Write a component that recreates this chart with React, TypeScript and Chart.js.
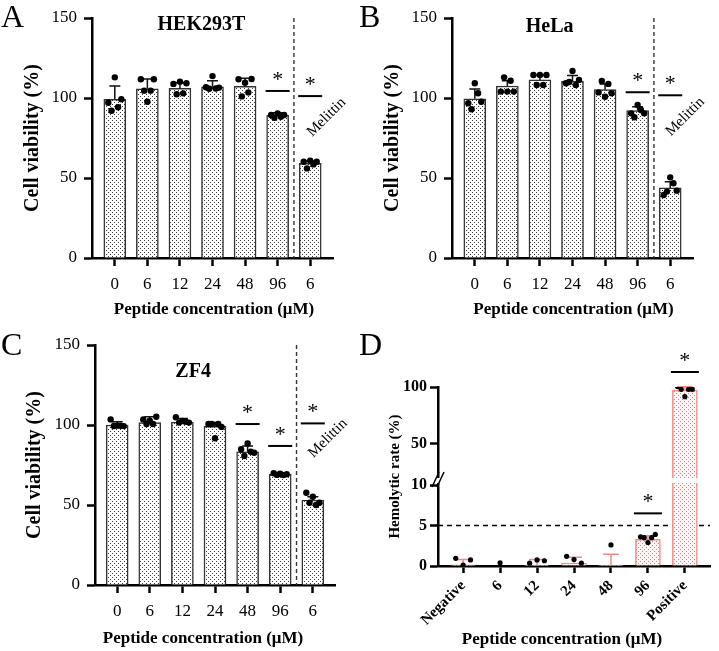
import { useEffect, useRef } from 'react';
import { Chart, registerables, LinearScale } from 'chart.js';

Chart.register(...registerables);

const SERIF = "'Liberation Serif', 'Times New Roman', Times, serif";
Chart.defaults.font.family = SERIF;
Chart.defaults.color = '#000';

// ---- Cell viability (three cell lines) ----
const concLabels = ['0', '6', '12', '24', '48', '96', '6'];
const viabilityTicks = [0, 50, 100, 150];

const hekMean = [99.2, 105.8, 106, 107, 107.3, 89.3, 59.2];
const hekSd = [8.3, 6.1, 3.6, 3.8, 5.0, 1.5, 1.4];
const hekPoints = [
  [112.9, 97, 99.2, 92, 94.2],
  [97.7, 111.7, 111.7, 104.6, 104.6],
  [110.2, 108.8, 109.2, 102.3, 102.9],
  [113.7, 106.7, 106.5, 105.8, 105.9],
  [109.5, 111.7, 111.9, 101, 103.5],
  [90.4, 89.4, 89.4, 87.7, 88.3],
  [60.8, 60.2, 60.2, 56, 58.5],
];
const hekSig = [null, null, null, null, null, 104.4, 101.2];

const helaMean = [99.5, 107.5, 111.3, 110.5, 105.2, 92.2, 43.8];
const helaSd = [6.1, 3.3, 3.1, 3.5, 3.6, 2.4, 3.9];
const helaPoints = [
  [109.2, 96.7, 97.7, 93, 103],
  [104, 104, 104, 112.9, 110.8],
  [114.4, 114.4, 114.4, 108.1, 108.1],
  [116.9, 109.2, 111.3, 110, 108.1],
  [100.8, 103.5, 103, 110.6, 108.8],
  [95.6, 90.4, 90.4, 88, 92.5],
  [50.4, 39.4, 42.1, 41.5, 46.7],
];
const helaSig = [null, null, null, null, null, 103.6, 101.7];

const zfMean = [100, 101.5, 101.8, 99.2, 83.3, 69.4, 53.1];
const zfSd = [2.1, 3.7, 2.2, 2.3, 3.6, 0.7, 2.1];
const zfPoints = [
  [99.6, 103.5, 99.3, 99.4, 99.5],
  [102.7, 103.5, 105.2, 100.6, 100.6],
  [102.5, 104.8, 101.5, 101.5, 102],
  [91.7, 100.6, 98.8, 100.6, 100.6],
  [88.5, 84.8, 82.7, 80.6, 83.3],
  [69.5, 69.8, 69.2, 68.8, 68.7],
  [55.2, 57.7, 51.4, 51.4, 50],
];
const zfSig = [null, null, null, null, 100.6, 86.9, 101];

// ---- Hemolysis ----
const hemoLabels = ['Negative', '6', '12', '24', '48', '96', 'Positive'];
const hemoTicks = [0, 5, 10, 50, 100];
const hemoMean = [0.15, 0, 0.05, 0.35, 0.02, 3.3, 97.3];
const hemoSd = [0.65, 0, 0.75, 0.72, 1.42, 0.45, 3.0];
const hemoPoints = [
  [0.1, 0.95, 0.75],
  [0.4],
  [0.75, 0.35, 0.65],
  [0.8, 1.2, 0.35],
  [2.6],
  [2.9, 3.6, 3.9, 3.5, 3.5],
  [91.5, 100.3, 98, 98, 98],
];
const hemoSig = [null, null, null, null, null, 6.5, 113.2];
const hemoThreshold = 5;

// horizontal spread of replicate dots, in category units
const JITTER = [0, -0.2, 0.2, -0.1, 0.1];

// broken y axis: 0–10 below the break, 20–100 above it
const BREAK_LOW = 10.25;
const BREAK_HIGH = 20;
const BREAK_TOP = 100;
const SEG_LOW = 83 / 179;
const SEG_GAP = 5 / 179;
const SEG_HIGH = 91 / 179;

function brokenDecimal(v: number) {
  if (v <= BREAK_LOW) return (v / BREAK_LOW) * SEG_LOW;
  if (v < BREAK_HIGH) return SEG_LOW + ((v - BREAK_LOW) / (BREAK_HIGH - BREAK_LOW)) * SEG_GAP;
  return SEG_LOW + SEG_GAP + ((v - BREAK_HIGH) / (BREAK_TOP - BREAK_HIGH)) * SEG_HIGH;
}

class BrokenScale extends LinearScale {
  static id = 'broken';
  static defaults = {};
  buildTicks() {
    return hemoTicks.map((value) => ({ value }));
  }
  getPixelForValue(value: number) {
    return this.getPixelForDecimal(brokenDecimal(value));
  }
  getValueForPixel(pixel: number) {
    const d = this.getDecimalForPixel(pixel);
    if (d <= SEG_LOW) return (d / SEG_LOW) * BREAK_LOW;
    if (d < SEG_LOW + SEG_GAP) return BREAK_LOW + ((d - SEG_LOW) / SEG_GAP) * (BREAK_HIGH - BREAK_LOW);
    return BREAK_HIGH + ((d - SEG_LOW - SEG_GAP) / SEG_HIGH) * (BREAK_TOP - BREAK_HIGH);
  }
}
Chart.register(BrokenScale as any);

interface Frame {
  width: number;
  height: number;
  padTop: number;
  padRight: number;
  yWidth: number;
  xHeight: number;
  yTitlePad: number;
  xTitleY: number;
  xTitleShift: number;
  xMin: number;
  xMax: number;
}

const frameA: Frame = { width: 360, height: 325, padTop: 18, padRight: 27, yWidth: 92, xHeight: 67, yTitlePad: 21, xTitleY: 310, xTitleShift: 1.5, xMin: -0.7, xMax: 6.7 };
const frameB: Frame = { width: 359, height: 325, padTop: 18, padRight: 26, yWidth: 92, xHeight: 67, yTitlePad: 21, xTitleY: 310, xTitleShift: 1, xMin: -0.7, xMax: 6.7 };
const frameC: Frame = { width: 360, height: 326, padTop: 20, padRight: 25, yWidth: 95, xHeight: 66, yTitlePad: 23, xTitleY: 313.5, xTitleShift: -12, xMin: -0.68, xMax: 6.68 };
const frameD: Frame = { width: 359, height: 326, padTop: 62, padRight: 9, yWidth: 78, xHeight: 85, yTitlePad: 26, xTitleY: 315, xTitleShift: -12, xMin: -0.68, xMax: 6.68 };

interface ViabilityPanel {
  mean: number[];
  sd: number[];
  points: number[][];
  sig: (number | null)[];
  title: string;
  titleAt: [number, number];
  noteAt: [number, number];
}

const hekPanel: ViabilityPanel = { mean: hekMean, sd: hekSd, points: hekPoints, sig: hekSig, title: 'HEK293T', titleAt: [2.66, 145.6], noteAt: [6.5, 88] };
const helaPanel: ViabilityPanel = { mean: helaMean, sd: helaSd, points: helaPoints, sig: helaSig, title: 'HeLa', titleAt: [2.3, 144.6], noteAt: [6.46, 88.3] };
const zfPanel: ViabilityPanel = { mean: zfMean, sd: zfSd, points: zfPoints, sig: zfSig, title: 'ZF4', titleAt: [2.33, 133], noteAt: [6.46, 91.7] };

function dotPattern(dot: string, bg: string) {
  const c = document.createElement('canvas');
  c.width = 4;
  c.height = 4;
  const g = c.getContext('2d')!;
  g.fillStyle = bg;
  g.fillRect(0, 0, 4, 4);
  g.fillStyle = dot;
  g.fillRect(0, 0, 1, 1);
  g.fillRect(2, 2, 1, 1);
  return g.createPattern(c, 'repeat')!;
}

function scatterData(points: number[][]) {
  return points.flatMap((vals, i) => vals.map((v, j) => ({ x: i + JITTER[j % JITTER.length], y: v })));
}

function drawErrorBars(chart: any, mean: number[], sd: number[], cap: number, color: string) {
  const { ctx, scales: { x, y } } = chart;
  ctx.save();
  ctx.strokeStyle = color;
  ctx.lineWidth = 1.5;
  mean.forEach((m, i) => {
    if (!(sd[i] > 0)) return;
    const px = x.getPixelForValue(i);
    const y0 = y.getPixelForValue(m);
    const y1 = y.getPixelForValue(m + sd[i]);
    ctx.beginPath();
    ctx.moveTo(px, y0);
    ctx.lineTo(px, y1);
    ctx.moveTo(px - cap / 2, y1);
    ctx.lineTo(px + cap / 2, y1);
    ctx.stroke();
  });
  ctx.restore();
}

function drawSig(chart: any, sig: (number | null)[], half: number) {
  const { ctx, scales: { x, y } } = chart;
  ctx.save();
  ctx.strokeStyle = '#000';
  ctx.fillStyle = '#000';
  ctx.lineWidth = 2;
  ctx.font = `22px ${SERIF}`;
  ctx.textAlign = 'center';
  ctx.textBaseline = 'alphabetic';
  sig.forEach((s, i) => {
    if (s == null) return;
    const px = x.getPixelForValue(i);
    const py = y.getPixelForValue(s);
    ctx.beginPath();
    ctx.moveTo(px - half, py);
    ctx.lineTo(px + half, py);
    ctx.stroke();
    ctx.fillText('*', px, py - 5);
  });
  ctx.restore();
}

function drawXTitle(chart: any, f: Frame) {
  const { ctx, chartArea } = chart;
  ctx.save();
  ctx.fillStyle = '#000';
  ctx.font = `bold 17px ${SERIF}`;
  ctx.textAlign = 'center';
  ctx.textBaseline = 'middle';
  ctx.fillText('Peptide concentration (μM)', (chartArea.left + chartArea.right) / 2 + f.xTitleShift, f.xTitleY);
  ctx.restore();
}

function axisStyle(tickLength: number) {
  return {
    grid: { display: true, offset: false, drawOnChartArea: false, drawTicks: true, tickLength, tickWidth: 2.5, tickColor: '#000' },
    border: { display: true, color: '#000', width: 2.5 },
  };
}

function viabilityConfig(p: ViabilityPanel, f: Frame, fill: CanvasPattern): any {
  const marks = {
    id: 'viabilityMarks',
    beforeDatasetsDraw(chart: any) {
      const { ctx, chartArea, scales: { x } } = chart;
      const sx = x.getPixelForValue(5.5);
      ctx.save();
      ctx.strokeStyle = '#333';
      ctx.lineWidth = 1.4;
      ctx.setLineDash([4, 3]);
      ctx.beginPath();
      ctx.moveTo(sx, chartArea.top);
      ctx.lineTo(sx, chartArea.bottom);
      ctx.stroke();
      ctx.restore();
    },
    afterDatasetDraw(chart: any, args: any) {
      if (args.index === 1) drawErrorBars(chart, p.mean, p.sd, 11, '#111');
    },
    afterDraw(chart: any) {
      drawSig(chart, p.sig, 12);
      drawXTitle(chart, f);
      const { ctx, scales: { x, y } } = chart;
      ctx.save();
      ctx.fillStyle = '#000';
      ctx.textAlign = 'center';
      ctx.textBaseline = 'middle';
      ctx.font = `bold 20px ${SERIF}`;
      ctx.fillText(p.title, x.getPixelForValue(p.titleAt[0]), y.getPixelForValue(p.titleAt[1]));
      ctx.translate(x.getPixelForValue(p.noteAt[0]), y.getPixelForValue(p.noteAt[1]));
      ctx.rotate(-Math.PI / 4);
      ctx.font = `15px ${SERIF}`;
      ctx.fillText('Melittin', 0, 0);
      ctx.restore();
    },
  };

  return {
    type: 'bar',
    data: {
      datasets: [
        {
          type: 'scatter',
          data: scatterData(p.points),
          pointRadius: 3.2,
          pointBackgroundColor: '#000',
          pointBorderWidth: 0,
        },
        {
          type: 'bar',
          data: p.mean.map((m, i) => ({ x: i, y: m })),
          backgroundColor: fill,
          borderColor: '#333',
          borderWidth: 1.5,
          barThickness: 22,
        },
      ],
    },
    options: {
      animation: false,
      responsive: false,
      events: [],
      layout: { padding: { top: f.padTop, right: f.padRight, left: 0, bottom: 0 } },
      plugins: { legend: { display: false }, tooltip: { enabled: false } },
      scales: {
        x: {
          type: 'linear',
          offset: false,
          min: f.xMin,
          max: f.xMax,
          afterBuildTicks: (s: any) => {
            s.ticks = concLabels.map((_, i) => ({ value: i }));
          },
          afterFit: (s: any) => {
            s.height = f.xHeight;
          },
          ...axisStyle(8),
          ticks: {
            callback: (v: number) => concLabels[v],
            font: { size: 17 },
            color: '#000',
            padding: 8,
            maxRotation: 0,
            autoSkip: false,
          },
        },
        y: {
          type: 'linear',
          min: 0,
          max: 150,
          afterBuildTicks: (s: any) => {
            s.ticks = viabilityTicks.map((value) => ({ value }));
          },
          afterFit: (s: any) => {
            s.width = f.yWidth;
          },
          ...axisStyle(8),
          ticks: { font: { size: 17 }, color: '#000', padding: 7 },
          title: {
            display: true,
            text: 'Cell viability (%)',
            font: { size: 20, weight: 'bold' },
            color: '#000',
            padding: { top: f.yTitlePad, bottom: 0 },
          },
        },
      },
    },
    plugins: [marks],
  };
}

function hemolysisConfig(f: Frame, fill: CanvasPattern): any {
  const marks = {
    id: 'hemolysisMarks',
    beforeDatasetsDraw(chart: any) {
      const { ctx, chartArea, scales: { y } } = chart;
      const ty = y.getPixelForValue(hemoThreshold);
      ctx.save();
      ctx.strokeStyle = '#000';
      ctx.lineWidth = 1.6;
      ctx.setLineDash([5, 4]);
      ctx.beginPath();
      ctx.moveTo(chartArea.left, ty);
      ctx.lineTo(chartArea.right, ty);
      ctx.stroke();
      ctx.restore();
    },
    afterDatasetDraw(chart: any, args: any) {
      if (args.index === 1) drawErrorBars(chart, hemoMean, hemoSd, 16, '#ee8a8a');
    },
    afterDraw(chart: any) {
      drawSig(chart, hemoSig, 14);
      drawXTitle(chart, f);
      const { ctx, chartArea: a, scales: { y } } = chart;
      const lo = y.getPixelForValue(BREAK_LOW);
      const hi = y.getPixelForValue(BREAK_HIGH);
      ctx.save();
      ctx.fillStyle = '#fff';
      ctx.fillRect(a.left - 3, hi, a.right - a.left + 3, lo - hi);
      ctx.strokeStyle = '#000';
      ctx.lineWidth = 1.5;
      ctx.beginPath();
      for (const dx of [-2, 3]) {
        ctx.moveTo(a.left + dx - 4, lo + 4);
        ctx.lineTo(a.left + dx + 3, hi - 6);
      }
      ctx.stroke();
      ctx.restore();
    },
  };

  return {
    type: 'bar',
    data: {
      datasets: [
        {
          type: 'scatter',
          data: scatterData(hemoPoints),
          pointRadius: 2.6,
          pointBackgroundColor: '#000',
          pointBorderWidth: 0,
        },
        {
          type: 'bar',
          data: hemoMean.map((m, i) => ({ x: i, y: m })),
          backgroundColor: fill,
          borderColor: '#f08c8c',
          borderWidth: 1.5,
          barThickness: 25,
        },
      ],
    },
    options: {
      animation: false,
      responsive: false,
      events: [],
      layout: { padding: { top: f.padTop, right: f.padRight, left: 0, bottom: 0 } },
      plugins: { legend: { display: false }, tooltip: { enabled: false } },
      scales: {
        x: {
          type: 'linear',
          offset: false,
          min: f.xMin,
          max: f.xMax,
          afterBuildTicks: (s: any) => {
            s.ticks = hemoLabels.map((_, i) => ({ value: i }));
          },
          afterFit: (s: any) => {
            s.height = f.xHeight;
          },
          ...axisStyle(7),
          ticks: {
            callback: (v: number) => hemoLabels[v],
            font: { size: 15, weight: 'bold' },
            color: '#000',
            padding: 4,
            minRotation: 45,
            maxRotation: 45,
            autoSkip: false,
          },
        },
        y: {
          type: 'broken',
          min: 0,
          max: 100,
          afterFit: (s: any) => {
            s.width = f.yWidth;
          },
          ...axisStyle(8),
          ticks: { font: { size: 16, weight: 'bold' }, color: '#000', padding: 3, callback: (v: number) => String(v) },
          title: {
            display: true,
            text: 'Hemolytic rate (%)',
            font: { size: 15, weight: 'bold' },
            color: '#000',
            padding: { top: f.yTitlePad, bottom: 0 },
          },
        },
      },
    },
    plugins: [marks],
  };
}

const letterStyle = (left: number, top: number): React.CSSProperties => ({
  position: 'absolute',
  left,
  top,
  fontFamily: SERIF,
  fontSize: 32,
  lineHeight: 1,
  color: '#000',
});

export default function App() {
  const refA = useRef<HTMLCanvasElement>(null);
  const refB = useRef<HTMLCanvasElement>(null);
  const refC = useRef<HTMLCanvasElement>(null);
  const refD = useRef<HTMLCanvasElement>(null);

  useEffect(() => {
    const gray = dotPattern('#3a3a3a', '#ffffff');
    const pink = dotPattern('#e07c7c', '#fff4f4');
    const charts = [
      new Chart(refA.current!, viabilityConfig(hekPanel, frameA, gray)),
      new Chart(refB.current!, viabilityConfig(helaPanel, frameB, gray)),
      new Chart(refC.current!, viabilityConfig(zfPanel, frameC, gray)),
      new Chart(refD.current!, hemolysisConfig(frameD, pink)),
    ];
    return () => charts.forEach((c) => c.destroy());
  }, []);

  return (
    <div style={{ position: 'absolute', left: 0, top: 0, width: 719, height: 651, background: '#fff', overflow: 'hidden' }}>
      <canvas ref={refA} width={frameA.width} height={frameA.height} style={{ position: 'absolute', left: 0, top: 0 }} />
      <canvas ref={refB} width={frameB.width} height={frameB.height} style={{ position: 'absolute', left: 360, top: 0 }} />
      <canvas ref={refC} width={frameC.width} height={frameC.height} style={{ position: 'absolute', left: 0, top: 325 }} />
      <canvas ref={refD} width={frameD.width} height={frameD.height} style={{ position: 'absolute', left: 360, top: 325 }} />
      <div style={letterStyle(1, 0)}>A</div>
      <div style={letterStyle(359, 0)}>B</div>
      <div style={letterStyle(1, 328)}>C</div>
      <div style={letterStyle(359, 328)}>D</div>
    </div>
  );
}
